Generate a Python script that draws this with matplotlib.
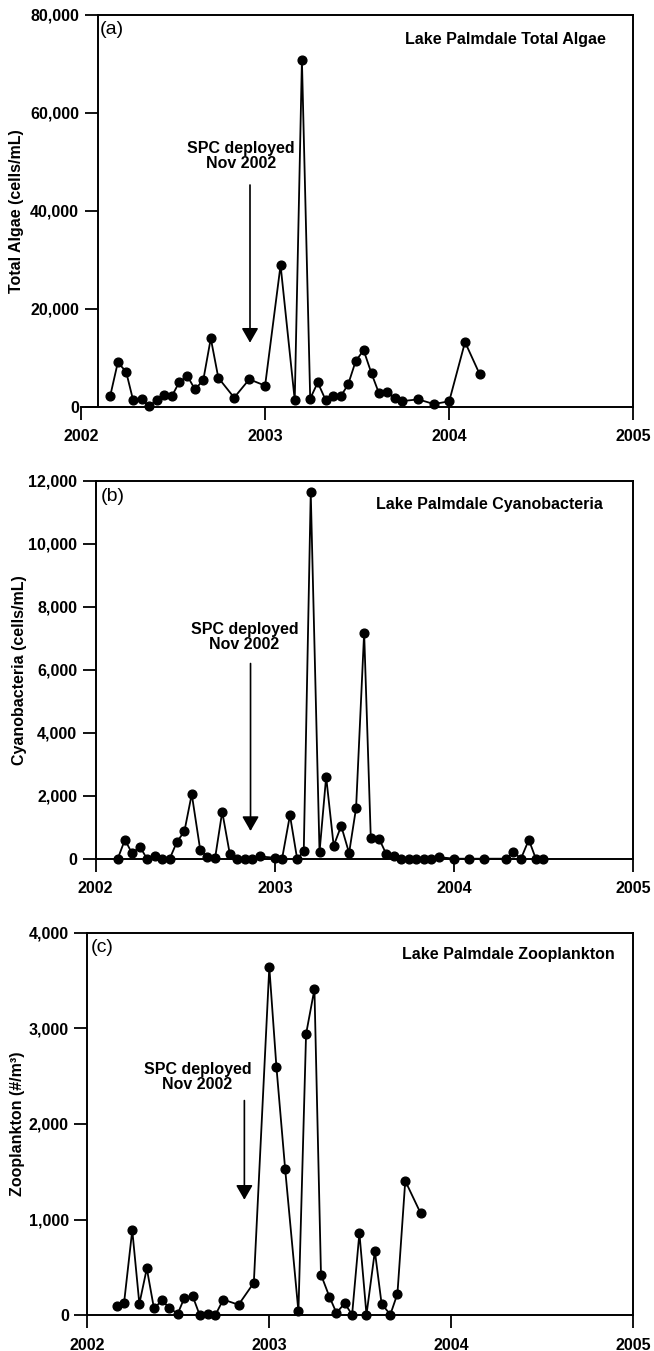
import matplotlib
matplotlib.use("Agg")
import matplotlib.pyplot as plt
from matplotlib.ticker import FuncFormatter

plt.rcParams['font.family'] = ['Liberation Sans', 'DejaVu Sans']
plt.rcParams['font.weight'] = 'bold'

# (a) total algae, cells/mL
algae_t = [2002.159, 2002.200, 2002.245, 2002.283, 2002.329, 2002.367, 2002.413, 2002.451,
           2002.494, 2002.535, 2002.578, 2002.619, 2002.664, 2002.705, 2002.746, 2002.832,
           2002.914, 2003.000, 2003.084, 2003.161, 2003.200, 2003.245, 2003.286, 2003.329,
           2003.367, 2003.413, 2003.451, 2003.492, 2003.535, 2003.578, 2003.619, 2003.664,
           2003.703, 2003.746, 2003.832, 2003.916, 2004.000, 2004.086, 2004.166]
algae = [2250, 9050, 7150, 1350, 1650, 150, 1300, 2300,
         2200, 5100, 6250, 3550, 5400, 13950, 5900, 1850,
         5600, 4300, 28900, 1350, 70800, 1650, 4950, 1350,
         2250, 2250, 4550, 9300, 11550, 6800, 2700, 3050,
         1700, 1150, 1500, 550, 1100, 13200, 6600]

# (b) cyanobacteria, cells/mL
cyano_t = [2002.123, 2002.163, 2002.202, 2002.248, 2002.286, 2002.330, 2002.371, 2002.413,
           2002.453, 2002.495, 2002.536, 2002.583, 2002.622, 2002.666, 2002.706, 2002.748,
           2002.787, 2002.834, 2002.871, 2002.917, 2003.000, 2003.040, 2003.084, 2003.124,
           2003.161, 2003.200, 2003.249, 2003.286, 2003.328, 2003.370, 2003.414, 2003.453,
           2003.498, 2003.535, 2003.581, 2003.621, 2003.667, 2003.704, 2003.746, 2003.785,
           2003.832, 2003.871, 2003.915, 2004.000, 2004.085, 2004.166, 2004.289, 2004.331,
           2004.373, 2004.417, 2004.456, 2004.498]
cyano = [0, 600, 180, 370, 0, 100, 0, 0,
         530, 870, 2050, 290, 60, 10, 1490, 160,
         0, 0, 0, 70, 30, 0, 1380, 0,
         230, 11630, 210, 2600, 410, 1040, 180, 1610,
         7180, 670, 640, 150, 90, 0, 0, 0,
         0, 0, 50, 0, 0, 0, 0, 210,
         0, 600, 0, 0]

# (c) zooplankton, #/m3
zoo_t = [2002.163, 2002.202, 2002.247, 2002.286, 2002.327, 2002.366, 2002.412, 2002.451,
         2002.497, 2002.534, 2002.579, 2002.618, 2002.664, 2002.703, 2002.747, 2002.831,
         2002.915, 2003.000, 2003.039, 2003.087, 2003.160, 2003.202, 2003.248, 2003.284,
         2003.330, 2003.369, 2003.414, 2003.455, 2003.495, 2003.534, 2003.580, 2003.617,
         2003.665, 2003.704, 2003.747, 2003.832]
zoo = [95, 130, 890, 120, 490, 75, 155, 75,
       17, 185, 200, 0, 17, 0, 165, 110,
       340, 3640, 2600, 1530, 40, 2940, 3410, 425,
       195, 25, 125, 7, 860, 7, 670, 120,
       7, 225, 1405, 1065]

panels = [
    dict(t=algae_t, v=algae, ymax=80000, ystep=20000, ylabel="Total Algae (cells/mL)",
         title="Lake Palmdale Total Algae", tag="(a)",
         rect=[0.12385, 0.69896, 0.84450, 0.28994], spine_x=2002.0907,
         title_xy=(0.768, 0.938), tag_xy=(0.0344, 0.9617), ylab_x=-0.1164,
         txt_xy=(2002.869, 51234), arr_x=2002.918, arr_top=45280, arr_tip=13070),
    dict(t=cyano_t, v=cyano, ymax=12000, ystep=2000, ylabel="Cyanobacteria (cells/mL)",
         title="Lake Palmdale Cyanobacteria", tag="(b)",
         rect=[0.14633, 0.36440, 0.82202, 0.27979], spine_x=None,
         title_xy=(0.732, 0.938), tag_xy=(0.0093, 0.9577), ylab_x=-0.1417,
         txt_xy=(2002.831, 7032), arr_x=2002.864, arr_top=6196, arr_tip=879),
    dict(t=zoo_t, v=zoo, ymax=4000, ystep=1000, ylabel="Zooplankton (#/m³)",
         title="Lake Palmdale Zooplankton", tag="(c)",
         rect=[0.13349, 0.02643, 0.83486, 0.28320], spine_x=None,
         title_xy=(0.772, 0.9435), tag_xy=(0.006, 0.9608), ylab_x=-0.1282,
         txt_xy=(2002.605, 2491), arr_x=2002.863, arr_top=2245, arr_tip=1208),
]

fig = plt.figure(figsize=(6.54, 13.51), dpi=100)
fmt = FuncFormatter(lambda v, p: "{:,.0f}".format(v))

for p in panels:
    ax = fig.add_axes(p["rect"])
    ax.plot(p["t"], p["v"], color="black", lw=1.3, marker="o", ms=6.3, clip_on=False, zorder=3)
    ax.set_xlim(2002, 2005)
    ax.set_ylim(0, p["ymax"])
    ax.set_xticks([2002, 2003, 2004, 2005])
    ax.set_yticks(range(0, p["ymax"] + 1, p["ystep"]))
    ax.yaxis.set_major_formatter(fmt)
    ax.tick_params(direction="out", length=9.3, width=1.3, labelsize=11.5, top=False, right=False)
    ax.tick_params(axis="x", pad=7)
    ax.tick_params(axis="y", pad=4)
    for s in ax.spines.values():
        s.set_linewidth(1.4)
    if p["spine_x"] is not None:
        ax.spines["left"].set_position(("data", p["spine_x"]))
        ax.spines["top"].set_bounds(p["spine_x"], 2005)

    ax.set_ylabel(p["ylabel"], fontsize=11.5, fontweight="bold")
    ax.yaxis.label.set_va("center")
    ax.yaxis.set_label_coords(p["ylab_x"], 0.5)

    ax.text(p["title_xy"][0], p["title_xy"][1], p["title"], transform=ax.transAxes,
            ha="center", va="center", fontsize=11.5, fontweight="bold")
    ax.text(p["tag_xy"][0], p["tag_xy"][1], p["tag"], transform=ax.transAxes,
            ha="left", va="center", fontsize=14, fontweight="normal")
    ax.text(p["txt_xy"][0], p["txt_xy"][1], "SPC deployed\nNov 2002", ha="center", va="center",
            fontsize=11.5, fontweight="bold", linespacing=1.05)
    ax.annotate("", xy=(p["arr_x"], p["arr_tip"]), xytext=(p["arr_x"], p["arr_top"]),
                arrowprops=dict(arrowstyle="-|>,head_length=0.4,head_width=0.23",
                                mutation_scale=22, lw=1.2, color="black",
                                shrinkA=0, shrinkB=0))

plt.savefig("out.png", dpi=100)
